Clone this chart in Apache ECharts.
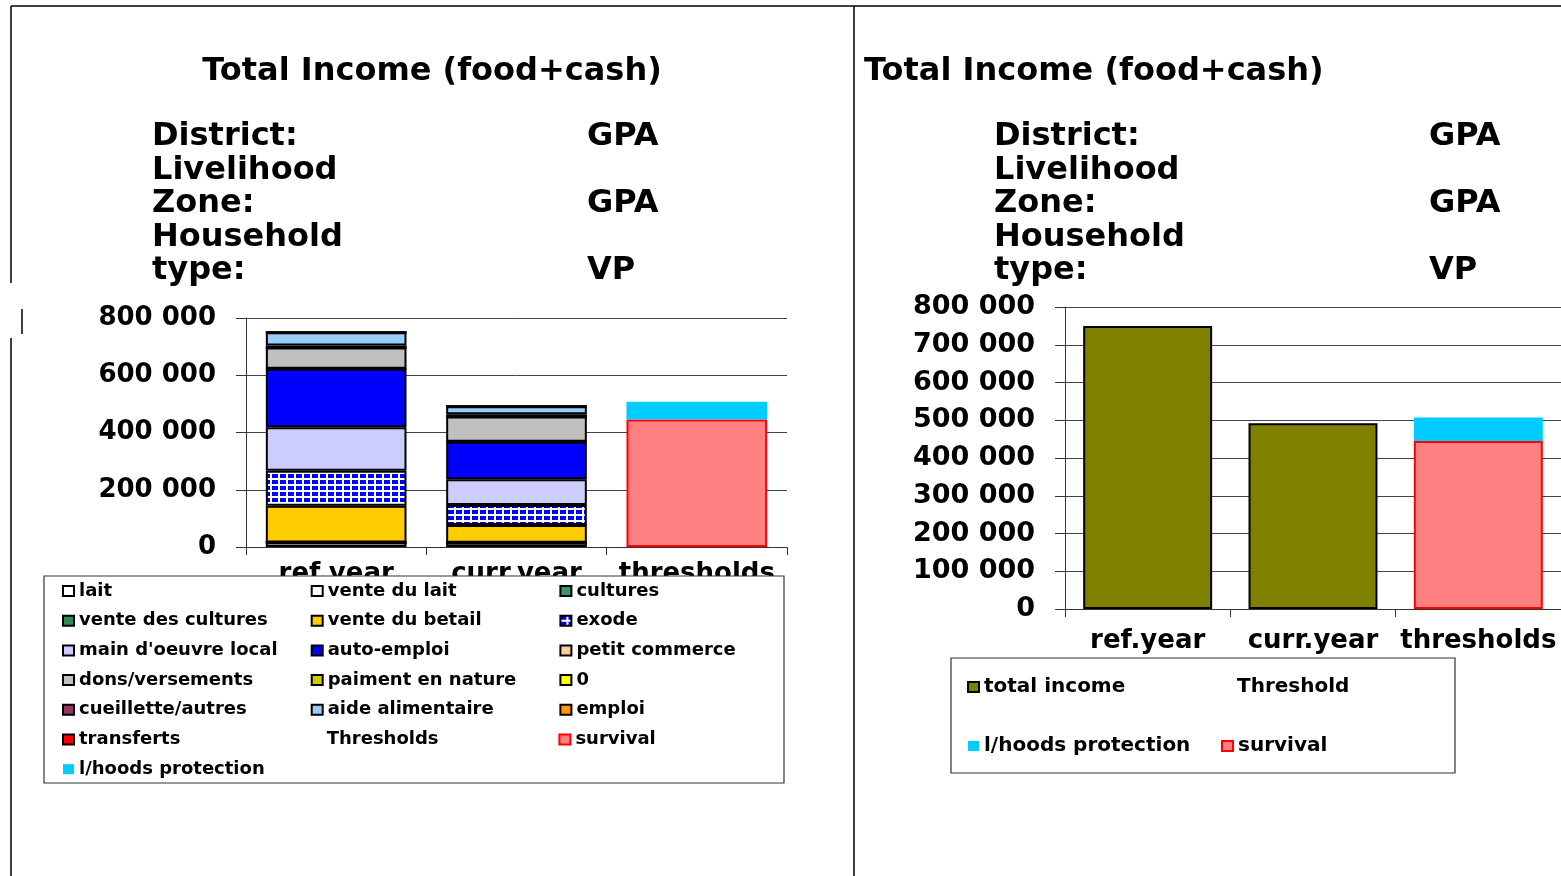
<!DOCTYPE html>
<html>
<head>
<meta charset="utf-8">
<title>Total Income (food+cash)</title>
<style>
  html, body { margin: 0; padding: 0; background: #fff; }
  #chart { width: 1561px; height: 876px; }
</style>
<script src="https://cdn.jsdelivr.net/npm/echarts@6/dist/echarts.min.js"></script>
</head>
<body>
<div id="chart"></div>
<script>
  // --- data ---
  const categories = ['ref.year', 'curr.year', 'thresholds'];

  const sourceNames = [
    'lait', 'vente du lait', 'cultures', 'vente des cultures', 'vente du betail', 'exode',
    "main d'oeuvre local", 'auto-emploi', 'petit commerce', 'dons/versements',
    'paiment en nature', '0', 'cueillette/autres', 'aide alimentaire', 'emploi', 'transferts'
  ];
  const refYearIncome = [16000, 0, 0, 0, 128000, 122000, 152000, 205000, 0, 74000, 0, 0, 7000, 46000, 0, 0];
  const currYearIncome = [15000, 0, 0, 0, 62000, 70000, 90000, 131000, 0, 88000, 0, 0, 8000, 28000, 0, 0];

  const survivalThreshold = [null, null, 445000];
  const lhoodsThreshold = [null, null, 62000];
  const totalIncome = [750000, 492000, null];

  const leftTicks = { max: 800000, interval: 200000 };
  const rightTicks = { max: 800000, interval: 100000 };

  const infoLabels = ['District:', 'Livelihood', 'Zone:', 'Household', 'type:'];
  const infoValues = ['GPA', '', 'GPA', '', 'VP'];

  // --- styles ---
  const FONT = '"DejaVu Sans", Verdana, sans-serif';

  const exodeTile = document.createElement('canvas');
  exodeTile.width = 8;
  exodeTile.height = 6;
  const tctx = exodeTile.getContext('2d');
  tctx.fillStyle = '#ffffff';
  tctx.fillRect(0, 0, 8, 6);
  tctx.fillStyle = '#0000ff';
  tctx.fillRect(0, 0, 6, 4);

  const sourceColors = [
    '#ffffff', '#ffffff', '#339966', '#2e8b57', '#ffcc00', { image: exodeTile, repeat: 'repeat' },
    '#ccccff', '#0000ff', '#ffcc99', '#c0c0c0',
    '#cccc00', '#ffff00', '#993366', '#99ccff', '#ff9900', '#ff0000'
  ];

  const fmt = v => String(v).replace(/\B(?=(\d{3})+(?!\d))/g, ' ');

  const chart = echarts.init(document.getElementById('chart'), null, { renderer: 'canvas' });

  const leftSeries = sourceNames.map((name, i) => ({
    name,
    type: 'bar',
    stack: 'left',
    xAxisIndex: 0,
    yAxisIndex: 0,
    barCategoryGap: '22%',
    itemStyle: { color: sourceColors[i], borderColor: '#000', borderWidth: 2 },
    emphasis: { disabled: true },
    data: [refYearIncome[i], currYearIncome[i], null]
  }));

  leftSeries.push(
    {
      name: 'Thresholds', type: 'bar', stack: 'left', xAxisIndex: 0, yAxisIndex: 0,
      itemStyle: { color: 'rgba(0,0,0,0)', borderWidth: 0 },
      data: [null, null, null]
    },
    {
      name: 'survival', type: 'bar', stack: 'left', xAxisIndex: 0, yAxisIndex: 0,
      barCategoryGap: '22%',
      itemStyle: { color: '#ff8080', borderColor: '#ff0000', borderWidth: 2 },
      data: survivalThreshold
    },
    {
      name: 'l/hoods protection', type: 'bar', stack: 'left', xAxisIndex: 0, yAxisIndex: 0,
      barCategoryGap: '22%',
      itemStyle: { color: '#00ccff', borderWidth: 0 },
      data: lhoodsThreshold
    }
  );

  const rightSeries = [
    {
      name: 'total income', type: 'bar', stack: 'right', xAxisIndex: 1, yAxisIndex: 1,
      barCategoryGap: '22%',
      itemStyle: { color: '#808000', borderColor: '#000', borderWidth: 2 },
      data: totalIncome
    },
    {
      name: 'Threshold', type: 'bar', stack: 'right', xAxisIndex: 1, yAxisIndex: 1,
      itemStyle: { color: 'rgba(0,0,0,0)', borderWidth: 0 },
      data: [null, null, null]
    },
    {
      name: 'survival', type: 'bar', stack: 'right', xAxisIndex: 1, yAxisIndex: 1,
      barCategoryGap: '22%',
      itemStyle: { color: '#ff8080', borderColor: '#ff0000', borderWidth: 2 },
      data: survivalThreshold
    },
    {
      name: 'l/hoods protection', type: 'bar', stack: 'right', xAxisIndex: 1, yAxisIndex: 1,
      barCategoryGap: '22%',
      itemStyle: { color: '#00ccff', borderWidth: 0 },
      data: lhoodsThreshold
    }
  ];

  const textEl = (text, x, y, size, align) => ({
    type: 'text',
    x, y, z: 10,
    style: {
      text, fill: '#000',
      font: 'bold ' + size + 'px ' + FONT,
      textAlign: align || 'left', textVerticalAlign: 'middle'
    }
  });

  const line = (x1, y1, x2, y2) => ({
    type: 'line', z: 10,
    shape: { x1, y1, x2, y2 },
    style: { stroke: '#000', lineWidth: 1.5 }
  });

  const infoText = [];
  infoLabels.forEach((t, i) => {
    const y = 137 + i * 33.5;
    infoText.push(textEl(t, 152, y, 32), textEl(t, 994, y, 32));
    if (infoValues[i]) {
      infoText.push(textEl(infoValues[i], 587, y, 32), textEl(infoValues[i], 1429, y, 32));
    }
  });

  const axisLabelStyle = size => ({
    color: '#000', fontFamily: FONT, fontWeight: 'bold', fontSize: size
  });

  const valueAxis = (idx, ticks, size, margin) => ({
    type: 'value',
    gridIndex: idx,
    min: 0,
    max: ticks.max,
    interval: ticks.interval,
    axisLine: { show: true, lineStyle: { color: '#333', width: 1 } },
    axisTick: { show: true, length: 10, lineStyle: { color: '#333' } },
    splitLine: { show: true, lineStyle: { color: '#444', width: 1 } },
    axisLabel: Object.assign({ margin, formatter: fmt }, axisLabelStyle(size))
  });

  const catAxis = (idx, margin) => ({
    type: 'category',
    gridIndex: idx,
    data: categories,
    axisLine: { show: true, lineStyle: { color: '#333', width: 1 } },
    axisTick: { show: true, length: 8, lineStyle: { color: '#333' } },
    axisLabel: Object.assign({ margin, interval: 0 }, axisLabelStyle(26))
  });

  chart.setOption({
    animation: false,
    backgroundColor: '#fff',
    grid: [
      { left: 246, right: 774, top: 318, bottom: 329 },
      { left: 1065, right: -2, top: 307, bottom: 267 }
    ],
    xAxis: [catAxis(0, 14), catAxis(1, 19)],
    yAxis: [valueAxis(0, leftTicks, 26, 30), valueAxis(1, rightTicks, 27, 30)],
    legend: [
      {
        data: sourceNames.concat(['Thresholds', 'survival', 'l/hoods protection']),
        left: 62, top: 582, width: 745, padding: 0,
        orient: 'horizontal',
        icon: 'rect', itemWidth: 11, itemHeight: 10, itemGap: 11.7,
        selectedMode: false, z: 60,
        textStyle: {
          color: '#000', fontFamily: FONT, fontWeight: 'bold', fontSize: 18,
          width: 220, lineHeight: 18, overflow: 'truncate'
        }
      },
      {
        data: ['total income', 'Threshold', 'l/hoods protection', 'survival'],
        left: 967, top: 667, width: 500, padding: 0,
        orient: 'horizontal',
        icon: 'rect', itemWidth: 11, itemHeight: 10, itemGap: 19,
        selectedMode: false, z: 60,
        textStyle: {
          color: '#000', fontFamily: FONT, fontWeight: 'bold', fontSize: 20,
          width: 218, lineHeight: 40, overflow: 'truncate'
        }
      }
    ],
    graphic: {
      elements: [
        // page frame
        line(11, 6, 1561, 6),
        line(11, 6, 11, 283),
        line(11, 338, 11, 876),
        line(22, 309, 22, 334),
        line(854, 6, 854, 876),
        // legend frames (white fill hides the clipped category labels)
        {
          type: 'rect', z: 50,
          shape: { x: 44, y: 576, width: 740, height: 207 },
          style: { fill: '#fff', stroke: '#333', lineWidth: 1.2 }
        },
        {
          type: 'rect', z: 50,
          shape: { x: 951, y: 658, width: 504, height: 115 },
          style: { fill: '#fff', stroke: '#333', lineWidth: 1.2 }
        },
        textEl('Total Income (food+cash)', 432, 72, 32, 'center'),
        textEl('Total Income (food+cash)', 864, 72, 32, 'left')
      ].concat(infoText)
    },
    series: leftSeries.concat(rightSeries)
  });
</script>
</body>
</html>
